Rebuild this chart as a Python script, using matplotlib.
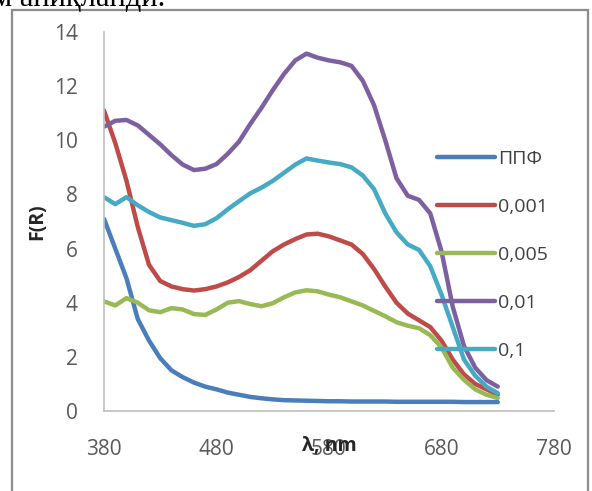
import matplotlib.pyplot as plt
from matplotlib.patches import Rectangle

# wavelength grid (nm)
wl = [380, 390, 400, 410, 420, 430, 440, 450, 460, 470, 480, 490,
      500, 510, 520, 530, 540, 550, 560, 570, 580, 590, 600, 610,
      620, 630, 640, 650, 660, 670, 680, 690, 700, 710, 720, 730]

ppf = [7.1, 6.0, 4.9, 3.4, 2.6, 1.95, 1.5, 1.25, 1.05, 0.9, 0.8, 0.68,
       0.6, 0.52, 0.47, 0.43, 0.4, 0.39, 0.38, 0.37, 0.36, 0.36, 0.35, 0.35,
       0.35, 0.35, 0.34, 0.34, 0.34, 0.34, 0.34, 0.34, 0.33, 0.33, 0.33, 0.33]

c0001 = [11.1, 9.9, 8.5, 6.8, 5.4, 4.8, 4.6, 4.5, 4.45, 4.5, 4.6, 4.75,
         4.95, 5.2, 5.55, 5.9, 6.15, 6.35, 6.52, 6.55, 6.45, 6.3, 6.15, 5.8,
         5.25, 4.6, 4.0, 3.6, 3.35, 3.1, 2.6, 1.9, 1.35, 1.0, 0.8, 0.6]

c0005 = [4.05, 3.9, 4.17, 4.0, 3.72, 3.65, 3.8, 3.75, 3.58, 3.55, 3.75, 4.0,
         4.06, 3.95, 3.87, 3.98, 4.2, 4.38, 4.46, 4.42, 4.3, 4.2, 4.05, 3.9,
         3.7, 3.5, 3.28, 3.15, 3.06, 2.8, 2.35, 1.6, 1.15, 0.8, 0.6, 0.48]

c001 = [10.5, 10.72, 10.75, 10.55, 10.2, 9.85, 9.45, 9.1, 8.9, 8.95, 9.12, 9.5,
        9.95, 10.6, 11.2, 11.85, 12.45, 12.95, 13.2, 13.05, 12.95, 12.88, 12.75, 12.2,
        11.3, 10.0, 8.6, 7.95, 7.8, 7.3, 5.9, 3.85, 2.4, 1.6, 1.14, 0.9]

c01 = [7.9, 7.64, 7.9, 7.6, 7.35, 7.15, 7.05, 6.95, 6.84, 6.9, 7.12, 7.45,
       7.75, 8.04, 8.25, 8.5, 8.8, 9.1, 9.33, 9.25, 9.18, 9.12, 9.0, 8.7,
       8.2, 7.3, 6.6, 6.15, 5.95, 5.35, 4.3, 3.1, 1.9, 1.3, 0.9, 0.66]

labels = ['ППФ', '0,001', '0,005', '0,01', '0,1']
colors = ['#4a7ebb', '#be4b48', '#98b954', '#7d60a0', '#46aac5']
xticks = [380, 480, 580, 680, 780]
yticks = [0, 2, 4, 6, 8, 10, 12, 14]

plt.rcParams['font.family'] = ['Open Sans', 'DejaVu Sans']

fig = plt.figure(figsize=(5.92, 4.91), dpi=100)
ax = fig.add_axes([104 / 592, 1 - 411 / 491, 450 / 592, 379 / 491])

for ys, lab, col in zip([ppf, c0001, c0005, c001, c01], labels, colors):
    ax.plot(wl, ys, color=col, lw=3.2, label=lab,
            solid_joinstyle='round', solid_capstyle='round')

ax.set_xlim(380, 780)
ax.set_ylim(0, 14)
ax.set_xticks(xticks)
ax.set_yticks(yticks)
ax.tick_params(length=0, labelsize=15, colors='#595959')
ax.tick_params(axis='x', pad=20)
ax.tick_params(axis='y', pad=19)
for s in ['top', 'right']:
    ax.spines[s].set_visible(False)
for s in ['left', 'bottom']:
    ax.spines[s].set_color('#bfbfbf')
    ax.spines[s].set_linewidth(1.2)

# Excel put the axis title right on top of the 580 tick label
ax.set_xlabel('λ, nm', fontsize=14, fontweight='bold', color='#262626')
ax.xaxis.set_label_coords(0.5, -0.092)
ax.xaxis.label.set_va('center')
ax.set_ylabel('F(R)', fontsize=14, fontweight='bold', color='#262626')
ax.yaxis.set_label_coords(-(104 - 37) / 450, 0.5)
ax.yaxis.label.set_va('center')

leg = ax.legend(loc='center left', bbox_to_anchor=(437 / 592, 1 - 255 / 491),
                bbox_transform=fig.transFigure, frameon=False, fontsize=14,
                handlelength=3.0, handletextpad=0.15, labelspacing=1.55,
                borderpad=0, borderaxespad=0)
for t in leg.get_texts():
    t.set_color('#404040')

# outer frame of the chart object
fig.patches.append(Rectangle((12 / 592, -0.05), 576 / 592, 1.05 - 10 / 491,
                             transform=fig.transFigure, fill=False,
                             edgecolor='#8c8c8c', lw=1.6))

# clipped line of document text above the chart
fig.text(165 / 592, 1 - 6 / 491, 'ҳам аниқланди.', ha='right', va='baseline',
         fontsize=22, family=['Liberation Serif', 'DejaVu Serif'], color='black')

fig.savefig('out.png', dpi=100)
